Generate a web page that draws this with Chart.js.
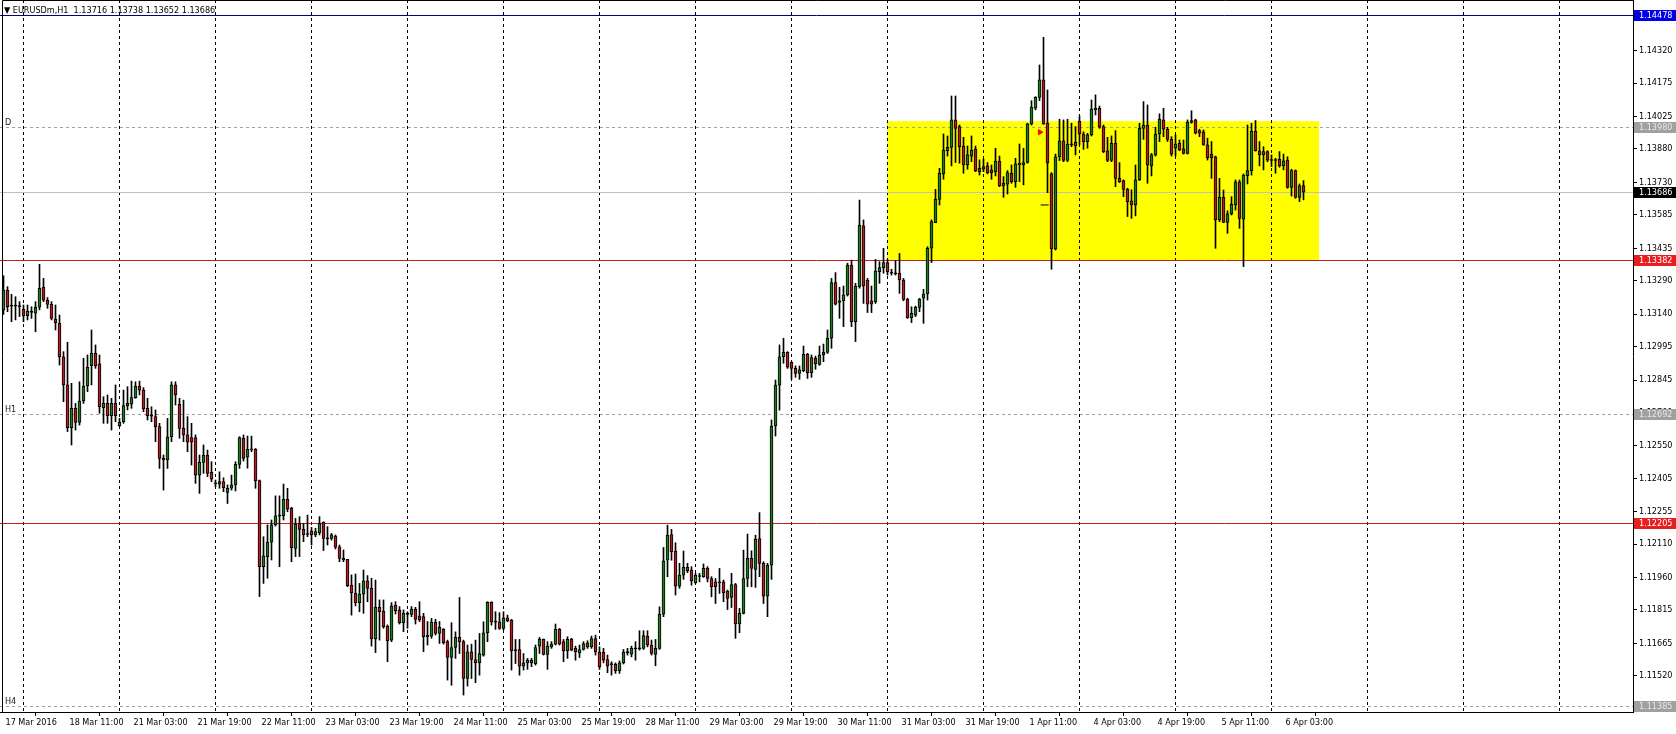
<!DOCTYPE html>
<html>
<head>
<meta charset="utf-8">
<script src="https://cdn.jsdelivr.net/npm/chart.js@4/dist/chart.umd.min.js"></script>
<style>
  body { margin: 0; background: #fff; overflow: hidden; }
</style>
</head>
<body>
<canvas id="c" width="1676" height="734"></canvas>
<script>
// EURUSDm H1 candles (one entry per hour bar)
const open = [
1.13159,1.13248,1.13178,1.13176,1.13178,1.13162,1.13133,1.13150,1.13144,1.13171,
1.13260,1.13202,1.13184,1.13118,1.13099,1.12949,1.12823,1.12631,1.12718,1.12655,
1.12751,1.12818,1.12909,1.12964,1.12917,1.12721,1.12740,1.12685,1.12740,1.12640,
1.12658,1.12730,1.12737,1.12766,1.12818,1.12800,1.12718,1.12685,1.12681,1.12636,
1.12494,1.12487,1.12591,1.12823,1.12736,1.12628,1.12599,1.12587,1.12587,1.12419,
1.12476,1.12509,1.12431,1.12384,1.12378,1.12390,1.12342,1.12360,1.12375,1.12467,
1.12584,1.12499,1.12535,1.12535,1.12394,1.12009,1.12054,1.12119,1.12196,1.12237,
1.12237,1.12311,1.12270,1.12091,1.12203,1.12176,1.12155,1.12169,1.12151,1.12161,
1.12208,1.12136,1.12136,1.12146,1.12098,1.12046,1.12042,1.11927,1.11889,1.11848,
1.11886,1.11945,1.11912,1.11685,1.11827,1.11810,1.11743,1.11680,1.11837,1.11815,
1.11758,1.11797,1.11795,1.11818,1.11788,1.11785,1.11703,1.11698,1.11760,1.11710,
1.11728,1.11673,1.11602,1.11647,1.11692,1.11673,1.11508,1.11628,1.11593,1.11578,
1.11613,1.11713,1.11849,1.11762,1.11762,1.11732,1.11780,1.11770,1.11638,1.11638,
1.11563,1.11578,1.11590,1.11575,1.11653,1.11683,1.11616,1.11650,1.11662,1.11728,
1.11673,1.11632,1.11685,1.11643,1.11623,1.11638,1.11668,1.11650,1.11687,1.11626,
1.11625,1.11593,1.11573,1.11571,1.11543,1.11578,1.11626,1.11617,1.11643,1.11641,
1.11643,1.11698,1.11658,1.11616,1.11643,1.11796,1.12038,1.12153,1.12079,1.11922,
1.11971,1.12006,1.11994,1.11937,1.11967,1.11964,1.12001,1.11956,1.11941,1.11937,
1.11941,1.11900,1.11871,1.11929,1.11752,1.11800,1.11956,1.12046,1.11997,1.12135,
1.12024,1.11877,1.12016,1.12639,1.12822,1.12949,1.12969,1.12924,1.12897,1.12875,
1.12887,1.12960,1.12878,1.12942,1.12915,1.12957,1.12969,1.13032,1.13281,1.13200,
1.13200,1.13226,1.13360,1.13106,1.13263,1.13535,1.13293,1.13200,1.13196,1.13330,
1.13348,1.13371,1.13326,1.13323,1.13323,1.13293,1.13206,1.13124,1.13135,1.13170,
1.13211,1.13230,1.13435,1.13550,1.13654,1.13768,1.13872,1.13887,1.14010,1.13980,
1.13893,1.13808,1.13848,1.13880,1.13793,1.13789,1.13804,1.13786,1.13778,1.13826,
1.13726,1.13722,1.13771,1.13733,1.13808,1.13808,1.13819,1.13992,1.14062,1.14111,
1.14189,1.13995,1.13768,1.13432,1.13845,1.13916,1.13828,1.13900,1.13910,1.14005,
1.13947,1.13913,1.13943,1.14055,1.14062,1.13980,1.13872,1.13828,1.13905,1.13748,
1.13738,1.13699,1.13648,1.13629,1.13741,1.13972,1.13987,1.13804,1.13853,1.13947,
1.14010,1.13968,1.13923,1.13883,1.13905,1.13880,1.13860,1.13999,1.14010,1.13962,
1.13957,1.13898,1.13857,1.13845,1.13562,1.13663,1.13551,1.13589,1.13629,1.13733,
1.13565,1.13760,1.13783,1.13960,1.13872,1.13853,1.13868,1.13830,1.13828,1.13833,
1.13804,1.13830,1.13708,1.13783,1.13663,1.13716
];
const high = [
1.13312,1.13263,1.13229,1.13218,1.13196,1.13181,1.13181,1.13173,1.13196,1.13363,
1.13300,1.13214,1.13196,1.13181,1.13136,1.12972,1.13014,1.12830,1.12740,1.12837,
1.12942,1.12957,1.13069,1.13002,1.12957,1.12770,1.12778,1.12763,1.12823,1.12673,
1.12800,1.12815,1.12840,1.12837,1.12840,1.12811,1.12763,1.12725,1.12711,1.12651,
1.12509,1.12673,1.12837,1.12837,1.12763,1.12755,1.12681,1.12651,1.12599,1.12509,
1.12554,1.12531,1.12479,1.12397,1.12434,1.12407,1.12375,1.12419,1.12479,1.12591,
1.12599,1.12594,1.12594,1.12538,1.12397,1.12143,1.12196,1.12218,1.12326,1.12326,
1.12379,1.12360,1.12275,1.12225,1.12233,1.12203,1.12240,1.12185,1.12181,1.12233,
1.12210,1.12188,1.12158,1.12151,1.12106,1.12084,1.12042,1.11972,1.11976,1.11934,
1.11994,1.11969,1.11957,1.11949,1.11860,1.11860,1.11748,1.11848,1.11852,1.11830,
1.11815,1.11807,1.11830,1.11827,1.11852,1.11800,1.11763,1.11777,1.11773,1.11763,
1.11732,1.11680,1.11758,1.11717,1.11871,1.11680,1.11658,1.11662,1.11680,1.11710,
1.11762,1.11852,1.11852,1.11807,1.11803,1.11807,1.11792,1.11773,1.11683,1.11683,
1.11620,1.11598,1.11598,1.11658,1.11692,1.11685,1.11673,1.11673,1.11752,1.11732,
1.11683,1.11695,1.11688,1.11653,1.11658,1.11673,1.11677,1.11698,1.11702,1.11650,
1.11643,1.11613,1.11583,1.11578,1.11587,1.11638,1.11643,1.11653,1.11673,1.11722,
1.11722,1.11722,1.11680,1.11683,1.11829,1.12095,1.12195,1.12176,1.12116,1.12024,
1.12079,1.12024,1.12009,1.11979,1.11979,1.12021,1.12009,1.11964,1.11956,1.12001,
1.11949,1.11904,1.11979,1.11934,1.11822,1.12083,1.12155,1.12080,1.12150,1.12251,
1.12031,1.12024,1.12666,1.12845,1.13002,1.13032,1.12972,1.12927,1.12908,1.12908,
1.12997,1.12964,1.12957,1.12952,1.12997,1.13006,1.13069,1.13300,1.13326,1.13260,
1.13266,1.13368,1.13382,1.13278,1.13651,1.13562,1.13300,1.13266,1.13385,1.13375,
1.13435,1.13385,1.13341,1.13379,1.13412,1.13300,1.13211,1.13173,1.13176,1.13211,
1.13251,1.13442,1.13562,1.13699,1.13793,1.13947,1.13938,1.14117,1.14117,1.13987,
1.13932,1.13893,1.13938,1.13893,1.13831,1.13834,1.13819,1.13808,1.13883,1.13848,
1.13756,1.13783,1.13808,1.13838,1.13902,1.13883,1.13995,1.14096,1.14114,1.14256,
1.14380,1.14144,1.13774,1.13857,1.14013,1.14010,1.14013,1.13995,1.13980,1.14028,
1.13957,1.13950,1.14099,1.14122,1.14072,1.13987,1.13932,1.13938,1.13962,1.13819,
1.13741,1.13704,1.13697,1.13808,1.13995,1.14092,1.14077,1.13860,1.13977,1.14037,
1.14062,1.13977,1.13935,1.13942,1.13920,1.13920,1.14010,1.14051,1.14013,1.13968,
1.13965,1.13928,1.13913,1.13848,1.13748,1.13696,1.13603,1.13666,1.13741,1.13741,
1.13768,1.13987,1.13995,1.14007,1.13913,1.13890,1.13872,1.13853,1.13838,1.13868,
1.13857,1.13845,1.13789,1.13786,1.13723,1.13738
];
const low = [
1.13139,1.13151,1.13106,1.13114,1.13129,1.13106,1.13114,1.13121,1.13061,1.13159,
1.13196,1.13166,1.13114,1.13069,1.12912,1.12748,1.12614,1.12554,1.12621,1.12643,
1.12740,1.12793,1.12823,1.12897,1.12696,1.12651,1.12651,1.12621,1.12658,1.12636,
1.12651,1.12711,1.12718,1.12763,1.12778,1.12703,1.12666,1.12658,1.12569,1.12449,
1.12352,1.12449,1.12569,1.12733,1.12584,1.12569,1.12524,1.12464,1.12382,1.12337,
1.12427,1.12412,1.12390,1.12367,1.12360,1.12345,1.12292,1.12352,1.12348,1.12449,
1.12482,1.12450,1.12524,1.12360,1.11875,1.11934,1.11957,1.12039,1.12191,1.12009,
1.12218,1.12255,1.12031,1.12054,1.12054,1.12121,1.12143,1.12106,1.12143,1.12151,
1.12081,1.12106,1.12128,1.12088,1.12031,1.12031,1.11919,1.11792,1.11833,1.11807,
1.11800,1.11852,1.11653,1.11624,1.11680,1.11733,1.11583,1.11673,1.11797,1.11752,
1.11718,1.11733,1.11785,1.11752,1.11763,1.11628,1.11658,1.11688,1.11703,1.11665,
1.11662,1.11501,1.11478,1.11598,1.11620,1.11434,1.11474,1.11508,1.11489,1.11523,
1.11608,1.11673,1.11747,1.11728,1.11728,1.11725,1.11762,1.11546,1.11575,1.11523,
1.11546,1.11549,1.11561,1.11568,1.11620,1.11613,1.11549,1.11643,1.11658,1.11658,
1.11583,1.11598,1.11632,1.11590,1.11602,1.11635,1.11643,1.11643,1.11613,1.11549,
1.11578,1.11534,1.11523,1.11531,1.11531,1.11573,1.11613,1.11605,1.11590,1.11635,
1.11638,1.11650,1.11613,1.11565,1.11638,1.11785,1.11964,1.12038,1.11882,1.11912,
1.11952,1.11982,1.11926,1.11934,1.11941,1.11961,1.11941,1.11874,1.11844,1.11889,
1.11852,1.11817,1.11826,1.11688,1.11713,1.11797,1.11919,1.11919,1.11916,1.11964,
1.11844,1.11785,1.11952,1.12594,1.12710,1.12920,1.12897,1.12848,1.12857,1.12848,
1.12882,1.12852,1.12857,1.12893,1.12911,1.12927,1.12964,1.12987,1.13181,1.13121,
1.13084,1.13221,1.13084,1.13017,1.13256,1.13188,1.13147,1.13147,1.13188,1.13278,
1.13323,1.13315,1.13315,1.13315,1.13233,1.13200,1.13121,1.13102,1.13129,1.13151,
1.13099,1.13203,1.13371,1.13550,1.13629,1.13744,1.13848,1.13804,1.13819,1.13816,
1.13771,1.13789,1.13823,1.13778,1.13763,1.13778,1.13768,1.13744,1.13759,1.13711,
1.13663,1.13678,1.13726,1.13708,1.13733,1.13719,1.13816,1.13987,1.14055,1.14096,
1.13990,1.13684,1.13341,1.13427,1.13828,1.13823,1.13823,1.13890,1.13853,1.13898,
1.13878,1.13883,1.13938,1.14032,1.13972,1.13863,1.13823,1.13823,1.13711,1.13729,
1.13666,1.13577,1.13569,1.13580,1.13738,1.13923,1.13726,1.13759,1.13848,1.13913,
1.13935,1.13913,1.13848,1.13848,1.13872,1.13857,1.13857,1.13995,1.13947,1.13935,
1.13896,1.13830,1.13748,1.13435,1.13554,1.13550,1.13502,1.13584,1.13606,1.13524,
1.13353,1.13723,1.13763,1.13870,1.13804,1.13786,1.13823,1.13801,1.13771,1.13798,
1.13786,1.13704,1.13669,1.13659,1.13644,1.13652
];
const close = [
1.13248,1.13173,1.13176,1.13178,1.13173,1.13132,1.13154,1.13148,1.13171,1.13256,
1.13202,1.13184,1.13121,1.13102,1.12949,1.12823,1.12631,1.12718,1.12655,1.12751,
1.12818,1.12902,1.12964,1.12909,1.12725,1.12740,1.12685,1.12740,1.12685,1.12655,
1.12730,1.12740,1.12766,1.12818,1.12800,1.12715,1.12685,1.12683,1.12636,1.12494,
1.12487,1.12591,1.12823,1.12778,1.12628,1.12599,1.12566,1.12566,1.12419,1.12476,
1.12509,1.12427,1.12401,1.12380,1.12390,1.12363,1.12360,1.12375,1.12467,1.12587,
1.12494,1.12535,1.12532,1.12394,1.12009,1.12057,1.12119,1.12196,1.12237,1.12235,
1.12311,1.12266,1.12094,1.12200,1.12176,1.12151,1.12153,1.12151,1.12166,1.12203,
1.12136,1.12134,1.12151,1.12096,1.12046,1.12039,1.11924,1.11892,1.11848,1.11886,
1.11945,1.11912,1.11685,1.11827,1.11807,1.11740,1.11677,1.11833,1.11812,1.11758,
1.11800,1.11795,1.11818,1.11773,1.11770,1.11695,1.11695,1.11761,1.11710,1.11737,
1.11668,1.11602,1.11647,1.11692,1.11673,1.11508,1.11628,1.11593,1.11578,1.11620,
1.11713,1.11849,1.11762,1.11760,1.11732,1.11780,1.11767,1.11632,1.11632,1.11563,
1.11578,1.11590,1.11578,1.11647,1.11685,1.11616,1.11653,1.11662,1.11728,1.11662,
1.11632,1.11683,1.11635,1.11628,1.11638,1.11665,1.11650,1.11687,1.11628,1.11561,
1.11590,1.11563,1.11570,1.11543,1.11578,1.11626,1.11624,1.11643,1.11641,1.11643,
1.11700,1.11658,1.11620,1.11643,1.11796,1.12035,1.12150,1.12076,1.11922,1.11971,
1.12006,1.11991,1.11946,1.11971,1.11965,1.12001,1.11956,1.11919,1.11919,1.11941,
1.11892,1.11867,1.11929,1.11752,1.11800,1.11956,1.12046,1.12001,1.12131,1.12024,
1.11877,1.12016,1.12639,1.12822,1.12949,1.12969,1.12902,1.12897,1.12875,1.12890,
1.12960,1.12878,1.12945,1.12917,1.12957,1.12969,1.13032,1.13281,1.13185,1.13193,
1.13226,1.13360,1.13106,1.13266,1.13539,1.13266,1.13185,1.13185,1.13333,1.13348,
1.13371,1.13330,1.13324,1.13321,1.13293,1.13206,1.13124,1.13144,1.13170,1.13206,
1.13230,1.13435,1.13554,1.13654,1.13771,1.13875,1.13887,1.14010,1.13972,1.13890,
1.13808,1.13853,1.13875,1.13783,1.13778,1.13801,1.13774,1.13774,1.13826,1.13714,
1.13714,1.13774,1.13733,1.13813,1.13816,1.13819,1.13992,1.14067,1.14111,1.14189,
1.13992,1.13816,1.13432,1.13845,1.13916,1.13828,1.13902,1.13898,1.13893,1.13947,
1.13913,1.13943,1.14059,1.14062,1.13977,1.13868,1.13828,1.13905,1.13748,1.13733,
1.13699,1.13644,1.13629,1.13741,1.13972,1.13987,1.13808,1.13853,1.13947,1.14013,
1.13968,1.13923,1.13857,1.13902,1.13875,1.13860,1.13999,1.14007,1.13950,1.13950,
1.13898,1.13841,1.13841,1.13562,1.13663,1.13551,1.13589,1.13632,1.13733,1.13569,
1.13763,1.13783,1.13960,1.13872,1.13853,1.13868,1.13830,1.13828,1.13830,1.13804,
1.13827,1.13708,1.13783,1.13663,1.13715,1.13686
];

// axis labels
const timeLabels = ['17 Mar 2016','18 Mar 11:00','21 Mar 03:00','21 Mar 19:00','22 Mar 11:00',
  '23 Mar 03:00','23 Mar 19:00','24 Mar 11:00','25 Mar 03:00','25 Mar 19:00','28 Mar 11:00',
  '29 Mar 03:00','29 Mar 19:00','30 Mar 11:00','31 Mar 03:00','31 Mar 19:00','1 Apr 11:00',
  '4 Apr 03:00','4 Apr 19:00','5 Apr 11:00','6 Apr 03:00'];
const barsPerTimeLabel = 16;
const priceTicks = [1.14470,1.14320,1.14175,1.14025,1.13880,1.13730,1.13585,1.13435,1.13290,
  1.13140,1.12995,1.12845,1.12700,1.12550,1.12405,1.12255,1.12110,1.11960,1.11815,1.11665,
  1.11520,1.11370];
const priceMin = 1.11358, priceMax = 1.14547;

// horizontal levels and their names
const levelPrices = [1.14478, 1.13980, 1.13686, 1.13382, 1.12692, 1.12205, 1.11385];
const levelNames  = ['', 'D', '', '', 'H1', '', 'H4'];

// yellow rectangle (bar index range, price range)
const zoneBars = [220.9, 328.9];
const zonePrices = [1.13382, 1.14004];

// trade marks
const arrowMark = [{x: 259.1, y: 1.13955}];
const dashMark = [{x: 260.3, y: 1.13629}];

const symbol = 'EURUSDm,H1';

// ---- styles ----
const BULL = '#1E7A1E', BEAR = '#B01E1E';
const levelStyle = [
  {line: '#00008B', dash: [],     box: '#0000E6', text: '#FFFFFF'},
  {line: '#A0A0A0', dash: [3, 3], box: '#A0A0A0', text: '#E8E8E8'},
  {line: '#C0C0C0', dash: [],     box: '#000000', text: '#FFFFFF'},
  {line: '#C81E1E', dash: [],     box: '#E61E1E', text: '#FFFFFF'},
  {line: '#A0A0A0', dash: [3, 3], box: '#A0A0A0', text: '#E8E8E8'},
  {line: '#C81E1E', dash: [],     box: '#E61E1E', text: '#FFFFFF'},
  {line: '#A0A0A0', dash: [3, 3], box: '#A0A0A0', text: '#E8E8E8'}
];
const FAMILY = '"DejaVu Sans Condensed", "Liberation Sans", sans-serif';
const FONT = '9px ' + FAMILY;

const bodies = open.map((o, i) => ({x: i, y: [o, close[i]]}));
const wicks = high.map((h, i) => ({x: i, y: [low[i], h]}));
const bodyColors = open.map((o, i) => {
  const d = close[i] - o;
  if (Math.abs(d) < 0.000025) return '#000';
  return d > 0 ? BULL : BEAR;
});

const decor = {
  id: 'decor',
  beforeDatasetsDraw(chart) {
    const {ctx, chartArea: a, scales: {x, y}} = chart;
    ctx.save();
    // zone
    const zx1 = x.getPixelForValue(zoneBars[0]), zx2 = x.getPixelForValue(zoneBars[1]);
    const zy1 = y.getPixelForValue(zonePrices[1]), zy2 = y.getPixelForValue(zonePrices[0]);
    ctx.fillStyle = '#FFFF00';
    ctx.fillRect(zx1, zy1, zx2 - zx1, zy2 - zy1);

    // vertical dashed grid, one every 24 bars
    ctx.strokeStyle = '#000';
    ctx.lineWidth = 1;
    ctx.setLineDash([3, 3]);
    for (let i = 5; i < x.max; i += 24) {
      const px = Math.floor(x.getPixelForValue(i)) + 0.5;
      ctx.beginPath();
      ctx.moveTo(px, a.top);
      ctx.lineTo(px, a.bottom);
      ctx.stroke();
    }

    // horizontal levels
    levelPrices.forEach((p, k) => {
      const st = levelStyle[k];
      const py = Math.round(y.getPixelForValue(p)) + 0.5;
      ctx.strokeStyle = st.line;
      ctx.setLineDash(st.dash);
      ctx.beginPath();
      ctx.moveTo(a.left, py);
      ctx.lineTo(a.right, py);
      ctx.stroke();
      if (levelNames[k]) {
        ctx.setLineDash([]);
        ctx.fillStyle = '#202020';
        ctx.font = FONT;
        ctx.textBaseline = 'alphabetic';
        ctx.textAlign = 'left';
        ctx.fillText(levelNames[k], 5, py - 3);
      }
    });
    ctx.restore();
  },
  afterDraw(chart) {
    const {ctx, chartArea: a, scales: {y}} = chart;
    ctx.save();
    // frame
    ctx.strokeStyle = '#000';
    ctx.lineWidth = 1;
    ctx.beginPath();
    ctx.moveTo(2.5, a.bottom);
    ctx.lineTo(2.5, 0.5);
    ctx.lineTo(a.right, 0.5);
    ctx.stroke();

    // price boxes on the axis
    ctx.font = FONT;
    ctx.textBaseline = 'middle';
    ctx.textAlign = 'left';
    levelPrices.forEach((p, k) => {
      const st = levelStyle[k];
      const py = Math.round(y.getPixelForValue(p));
      ctx.fillStyle = st.box;
      ctx.fillRect(a.right + 1, py - 5, chart.width - a.right - 1, 11);
      ctx.fillStyle = st.text;
      ctx.fillText(p.toFixed(5), a.right + 6, py + 0.5);
    });

    // title
    const n = close.length - 1;
    ctx.fillStyle = '#000';
    ctx.textBaseline = 'alphabetic';
    ctx.fillText('\u25BC ' + symbol + '  ' + [open[n], high[n], low[n], close[n]].map(v => v.toFixed(5)).join(' '), 4, 13);
    ctx.restore();
  }
};

new Chart(document.getElementById('c'), {
  type: 'bar',
  data: {
    datasets: [
      {
        data: bodies,
        backgroundColor: bodyColors,
        borderColor: '#000',
        borderWidth: 1,
        borderSkipped: false,
        barThickness: 3,
        minBarLength: 1,
        grouped: false,
        order: 1
      },
      {
        data: wicks,
        backgroundColor: '#000',
        borderWidth: 0,
        barThickness: 1,
        grouped: false,
        order: 2
      },
      {
        type: 'line',
        data: arrowMark,
        showLine: false,
        pointStyle: 'triangle',
        rotation: 90,
        radius: 3,
        backgroundColor: '#FF0000',
        borderColor: '#FF0000',
        order: 0
      },
      {
        type: 'line',
        data: dashMark,
        showLine: false,
        pointStyle: 'line',
        radius: 4,
        borderColor: '#000',
        borderWidth: 1,
        order: 0
      }
    ]
  },
  options: {
    responsive: false,
    animation: false,
    layout: {padding: 0, autoPadding: false},
    plugins: {legend: {display: false}, tooltip: {enabled: false}},
    scales: {
      x: {
        type: 'linear',
        min: -0.875,
        max: -0.875 + 1633 / 4,
        offset: false,
        border: {display: true, color: '#000'},
        grid: {drawOnChartArea: false, drawTicks: true, tickLength: 4, tickColor: '#000'},
        ticks: {
          autoSkip: false, maxRotation: 0, align: 'start', labelOffset: 2, padding: 1,
          color: '#000', font: {family: FAMILY, size: 9},
          callback: (v, i) => timeLabels[i]
        },
        afterBuildTicks: s => { s.ticks = timeLabels.map((t, k) => ({value: k * barsPerTimeLabel})); },
        afterFit: s => { s.height = 22; s.paddingLeft = 0; s.paddingRight = 0; s.paddingTop = 0; s.paddingBottom = 0; }
      },
      y: {
        position: 'right',
        min: priceMin,
        max: priceMax,
        border: {display: true, color: '#000'},
        grid: {drawOnChartArea: false, drawTicks: true, tickLength: 4, tickColor: '#000'},
        ticks: {
          autoSkip: false, padding: 2, color: '#000',
          font: {family: FAMILY, size: 9},
          callback: v => v.toFixed(5)
        },
        afterBuildTicks: s => { s.ticks = priceTicks.map(v => ({value: v})); },
        afterFit: s => { s.width = 43; s.paddingLeft = 0; s.paddingRight = 0; s.paddingTop = 0; s.paddingBottom = 0; }
      }
    }
  },
  plugins: [decor]
});
</script>
</body>
</html>
